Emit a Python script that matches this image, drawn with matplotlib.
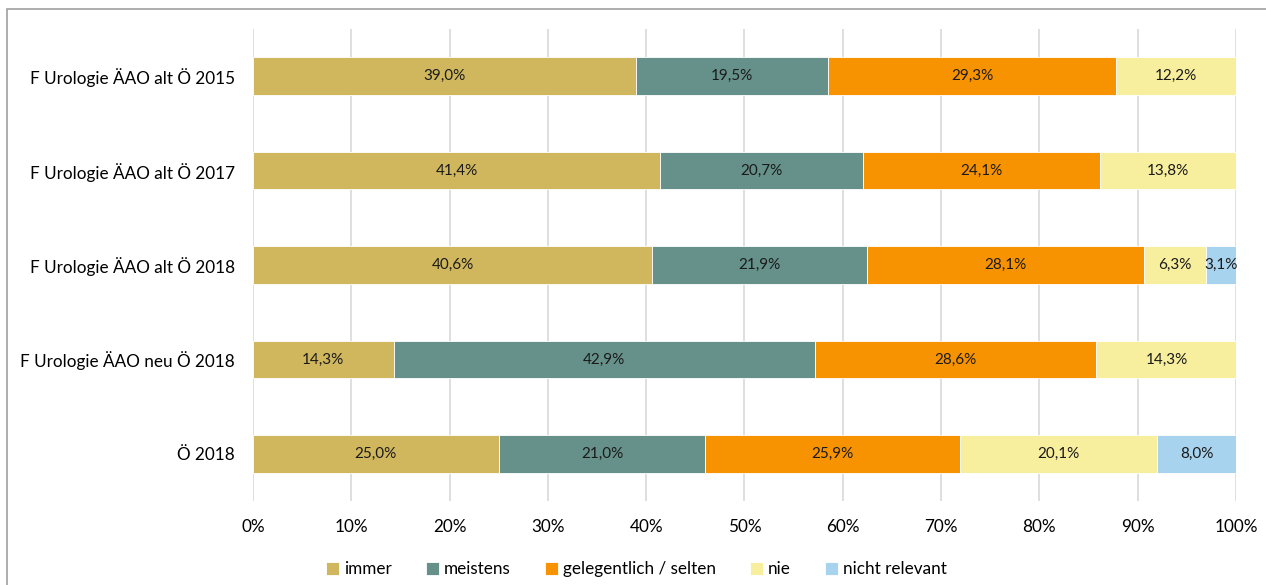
import matplotlib.pyplot as plt
import numpy as np

plt.rcParams["font.family"] = ["Lato", "DejaVu Sans"]

groups = [
    "F Urologie ÄAO alt Ö 2015",
    "F Urologie ÄAO alt Ö 2017",
    "F Urologie ÄAO alt Ö 2018",
    "F Urologie ÄAO neu Ö 2018",
    "Ö 2018",
]
series = ["immer", "meistens", "gelegentlich / selten", "nie", "nicht relevant"]
immer = [39.0, 41.4, 40.6, 14.3, 25.0]
meistens = [19.5, 20.7, 21.9, 42.9, 21.0]
gelegentlich = [29.3, 24.1, 28.1, 28.6, 25.9]
nie = [12.2, 13.8, 6.3, 14.3, 20.1]
nicht_relevant = [0.0, 0.0, 3.1, 0.0, 8.0]
colours = ["#D0B75E", "#66918A", "#F79300", "#F8EF9E", "#A8D3EE"]

values = [immer, meistens, gelegentlich, nie, nicht_relevant]

fig = plt.figure(figsize=(12.66, 5.85), dpi=100)
ax = fig.add_axes([0.1998, 0.1436, 0.7765, 0.8068])

y = np.arange(len(groups))
left = np.zeros(len(groups))
for name, vals, col in zip(series, values, colours):
    vals = np.array(vals)
    ax.barh(y, vals, left=left, height=0.4, color=col, label=name,
            edgecolor="white", linewidth=0.6, zorder=3)
    for yi, l, v in zip(y, left, vals):
        if v > 0:
            ax.text(l + v / 2, yi, f"{v:.1f}%".replace(".", ","),
                    ha="center", va="center", fontsize=11, color="#1a1a1a",
                    zorder=4)
    left += vals

ax.set_xlim(0, 100)
ax.set_ylim(len(groups) - 0.5, -0.5)
ax.set_xticks(np.arange(0, 101, 10))
ax.set_xticklabels([f"{t}%" for t in range(0, 101, 10)], fontsize=12.3)
ax.set_yticks(y)
ax.set_yticklabels(groups, fontsize=12.3)
ax.tick_params(length=0, pad=13, axis="y")
ax.tick_params(length=0, pad=13, axis="x")
ax.grid(axis="x", color="#D9D9D9", linewidth=1.2, zorder=0)
for s in ax.spines.values():
    s.set_visible(False)

ax.legend(loc="upper center", bbox_to_anchor=(0.39, -0.095), ncol=5,
          frameon=False, fontsize=12.3, handlelength=0.75, handleheight=0.75,
          handletextpad=0.3, columnspacing=2.0)

fig.patches.append(plt.Rectangle((0.0055, -0.1), 1.2, 1.0846, transform=fig.transFigure,
                                 fill=False, edgecolor="#A0A0A0", linewidth=1.2))

fig.savefig("out.png", dpi=100)
